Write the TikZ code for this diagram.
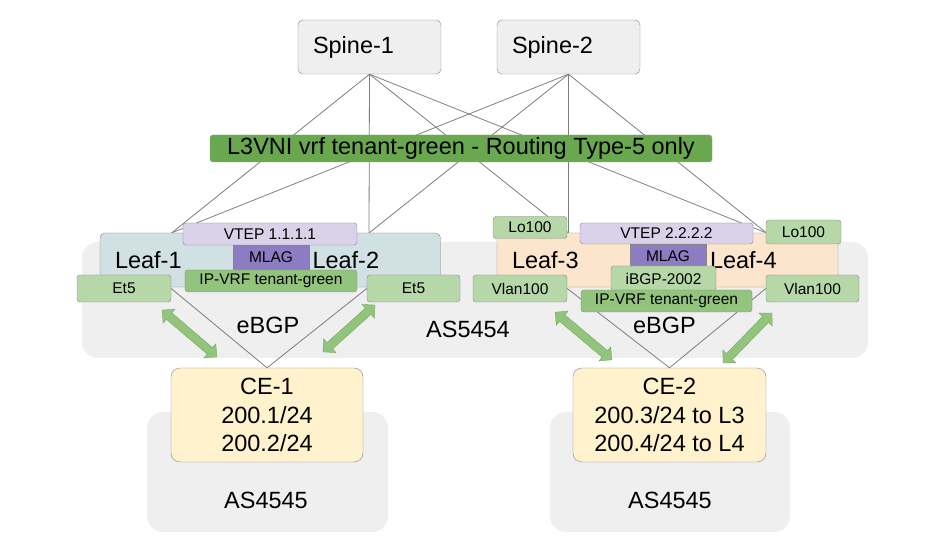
\documentclass[tikz,border=0pt]{standalone}
\usepackage{fontspec}
\setmainfont{Liberation Sans}
\usepackage{tikz}
\usetikzlibrary{shapes.arrows, positioning}
\definecolor{netGrey}{RGB}{239,239,239}
\definecolor{netEdge}{RGB}{135,135,135}
\definecolor{netLine}{RGB}{125,125,125}
\definecolor{vniGreen}{RGB}{106,168,79}
\definecolor{vrfGreen}{RGB}{147,196,125}
\definecolor{tagGreen}{RGB}{182,215,168}
\definecolor{leafBlue}{RGB}{208,224,227}
\definecolor{leafPeach}{RGB}{252,229,205}
\definecolor{vtepLilac}{RGB}{217,210,233}
\definecolor{mlagPurple}{RGB}{142,124,195}
\definecolor{ceYellow}{RGB}{255,242,204}
\definecolor{arrowEdge}{RGB}{118,168,92}
\newcommand{\netbig}{\fontsize{23.5}{28.5}\selectfont}
\newcommand{\netsmall}{\fontsize{15.5}{18}\selectfont}

\begin{document}
\begin{tikzpicture}[
    x=1pt, y=-1pt,
    spinebox/.style={draw=netEdge, fill=netGrey, rounded corners=5pt, text width=113pt, inner xsep=15pt, align=left, minimum height=54pt, font=\netbig},
    leafbox/.style={draw=netEdge, rounded corners=5pt, text width=113pt, inner xsep=15pt, align=left, minimum height=54pt, font=\netbig},
    tagbox/.style={draw=netEdge, rounded corners=3pt, inner sep=0pt, font=\netsmall},
    cebox/.style={draw=netEdge, fill=ceYellow, rounded corners=9pt, minimum height=94pt, align=center, font=\netbig},
    link/.style={draw=netLine, line width=0.8pt},
    bgarrow/.style={double arrow, draw=arrowEdge, fill=vrfGreen, inner sep=4pt, double arrow head extend=5pt, minimum width=18pt}
]
\useasboundingbox (0,0) rectangle (930,556);

% AS regions
\fill[netGrey, rounded corners=16pt] (82,242) rectangle (868,358);
\fill[netGrey, rounded corners=16pt] (147,412) rectangle (388,532);
\fill[netGrey, rounded corners=16pt] (550,412) rectangle (790,532);

% Spines
\node (sp1) [spinebox] at (369.5,47) {Spine-1};
\node (sp2) [spinebox] at (568.5,47) {Spine-2};

% Leaf positions (boxes drawn after the links)
\coordinate (l1top) at (171.5,233);
\coordinate (l2top) at (369,233);
\coordinate (l3top) at (568.5,233);
\coordinate (l4top) at (766.5,233);

% Fabric links
\foreach \s in {sp1,sp2} {
  \foreach \l in {l1top,l2top,l3top,l4top} {
    \draw[link] (\s.south) -- (\l);
  }
}

% L3VNI
\node (vni) [draw=arrowEdge, fill=vniGreen, rounded corners=3pt, minimum width=502pt, minimum height=27pt, inner sep=0pt, font=\netbig] at (461,148.5) {L3VNI vrf tenant-green - Routing Type-5 only};

% Leaf-1 / Leaf-2
\node (leaf1) [leafbox, fill=leafBlue] at (171.5,260) {Leaf-1};
\node (leaf2) [leafbox, fill=leafBlue] at (369,260) {Leaf-2};
\node (vtep1) [tagbox, fill=vtepLilac, minimum width=174pt, minimum height=22pt] at (270,234) {VTEP 1.1.1.1};
\node (mlag1) [tagbox, fill=mlagPurple, minimum width=76pt, minimum height=25pt, rounded corners=0pt] at (271,257.5) {MLAG};
\node (et5a) [tagbox, fill=tagGreen, minimum width=94pt, minimum height=27pt] at (124,288.5) {Et5};
\node (et5b) [tagbox, fill=tagGreen, minimum width=93pt, minimum height=27pt] at (413.5,288.5) {Et5};

% Leaf-3 / Leaf-4
\node (leaf3) [leafbox, fill=leafPeach] at (568.5,260) {Leaf-3};
\node (leaf4) [leafbox, fill=leafPeach] at (766.5,260) {Leaf-4};
\node (lo3) [tagbox, fill=tagGreen, minimum width=74pt, minimum height=22pt] at (530,227.5) {Lo100};
\node (vtep2) [tagbox, fill=vtepLilac, minimum width=173pt, minimum height=21pt] at (666.5,233.5) {VTEP 2.2.2.2};
\node (lo4) [tagbox, fill=tagGreen, minimum width=75pt, minimum height=24pt] at (803.5,232) {Lo100};
\node (mlag2) [tagbox, fill=mlagPurple, minimum width=76pt, minimum height=24pt, rounded corners=0pt] at (668,256) {MLAG};
\node (ibgp) [tagbox, fill=tagGreen, minimum width=105pt, minimum height=25pt] at (663.5,278.5) {iBGP-2002};
\node (vl3) [tagbox, fill=tagGreen, minimum width=94pt, minimum height=27pt] at (520,288.5) {Vlan100};
\node (vl4) [tagbox, fill=tagGreen, minimum width=93pt, minimum height=27pt] at (812.5,288.5) {Vlan100};

% CE routers
\node (ce1) [cebox, minimum width=192pt] at (267,415) {CE-1\\200.1/24\\200.2/24};
\node (ce2) [cebox, minimum width=193pt] at (669.5,415) {CE-2\\200.3/24 to L3\\200.4/24 to L4};

% eBGP sessions
\draw[link] (et5a.east) -- (ce1.north) -- (et5b.west);
\draw[link] (vl3.east) -- (ce2.north) -- (vl4.west);

% IP-VRF
\node (vrf1) [tagbox, fill=vrfGreen, minimum width=172pt, minimum height=22pt] at (271,281) {IP-VRF tenant-green};
\node (vrf2) [tagbox, fill=vrfGreen, minimum width=171pt, minimum height=22pt] at (666.5,301) {IP-VRF tenant-green};

% Attachment arrows
\node (ar1) [bgarrow, minimum height=72pt, rotate=-40.5] at (189.5,333.5) {};
\node (ar2) [bgarrow, minimum height=70pt, rotate=42] at (349,328.5) {};
\node (ar3) [bgarrow, minimum height=74pt, rotate=-40] at (583.5,336) {};
\node (ar4) [bgarrow, minimum height=70pt, rotate=45.6] at (747.5,338) {};

% Labels
\node (bgp1) at (268,325) [font=\netbig] {eBGP};
\node (bgp2) at (664.5,325) [font=\netbig] {eBGP};
\node (as1) at (468,329) [font=\netbig] {AS5454};
\node (as2) at (266,500) [font=\netbig] {AS4545};
\node (as3) at (670,500) [font=\netbig] {AS4545};

\end{tikzpicture}
\end{document}
